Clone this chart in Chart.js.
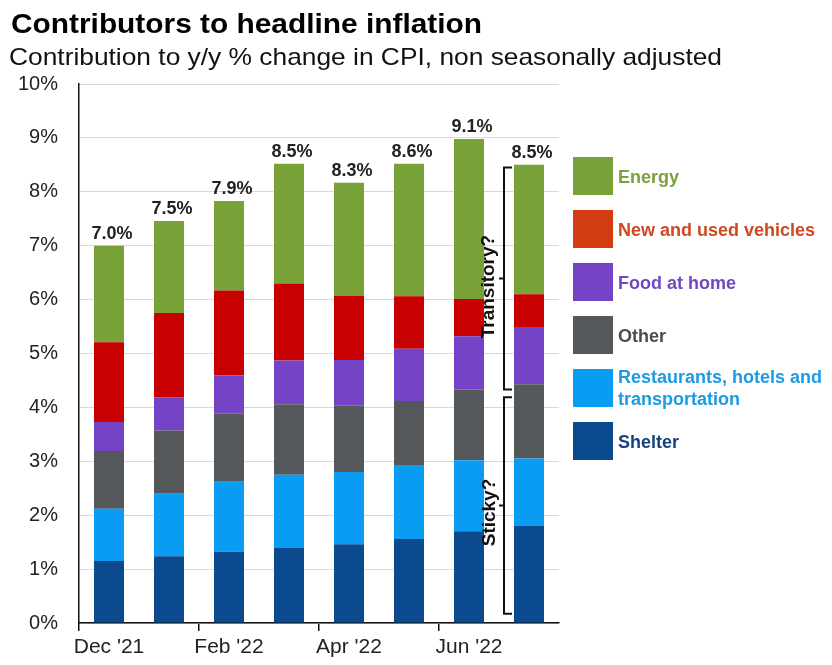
<!DOCTYPE html>
<html>
<head>
<meta charset="utf-8">
<script src="https://cdn.jsdelivr.net/npm/chart.js@4.4.0/dist/chart.umd.min.js"></script>
<style>
html,body{margin:0;padding:0;background:#fff;}
#wrap{position:relative;width:832px;height:665px;}
</style>
</head>
<body>
<div id="wrap"><canvas id="c" width="832" height="665"></canvas></div>
<script>
// ---- data ----
const categories = ["Dec '21","Jan '22","Feb '22","Mar '22","Apr '22","May '22","Jun '22","Jul '22"];
const shelter     = [1.15, 1.24, 1.32, 1.40, 1.46, 1.56, 1.70, 1.81];
const restaurants = [0.97, 1.16, 1.30, 1.35, 1.34, 1.37, 1.32, 1.24];
const other       = [1.07, 1.17, 1.26, 1.31, 1.23, 1.19, 1.31, 1.38];
const food        = [0.54, 0.62, 0.71, 0.81, 0.85, 0.97, 0.99, 1.06];
const vehicles    = [1.48, 1.56, 1.58, 1.43, 1.19, 0.97, 0.69, 0.61];
const energy      = [1.79, 1.71, 1.66, 2.22, 2.10, 2.46, 2.97, 2.40];
const totalLabels = ["7.0%","7.5%","7.9%","8.5%","8.3%","8.6%","9.1%","8.5%"];
const yTicks      = [0,1,2,3,4,5,6,7,8,9,10];
const seriesNames = ["Energy","New and used vehicles","Food at home","Other","Restaurants, hotels and\ntransportation","Shelter"];
const transitoryRange = [8.45, 4.33];
const stickyRange     = [4.19, 0.17];

const FONT = "'Liberation Sans', Arial, sans-serif";

const colors = {
  shelter:'#0B4A8E', restaurants:'#0A9BF2', other:'#55585B',
  food:'#7443C6', vehicles:'#C80000', energy:'#78A137'
};
const legendItems = [
  {name:seriesNames[0], box:'#78A137', text:'#79A23C'},
  {name:seriesNames[1], box:'#D23C10', text:'#CF4822'},
  {name:seriesNames[2], box:'#7443C6', text:'#7447BE'},
  {name:seriesNames[3], box:'#55585B', text:'#4A4C4E'},
  {name:seriesNames[4], box:'#0A9BF2', text:'#1C9BE4'},
  {name:seriesNames[5], box:'#0B4A8E', text:'#17427E'}
];

function fitText(ctx, text, x, y, width){
  const w = ctx.measureText(text).width;
  ctx.save();
  ctx.translate(x, y);
  ctx.scale(width / w, 1);
  ctx.fillText(text, 0, 0);
  ctx.restore();
}

const extras = {
  id:'extras',
  afterDraw(chart){
    const ctx = chart.ctx;
    const y = chart.scales.y;
    ctx.save();
    // titles
    ctx.fillStyle = '#000';
    ctx.textBaseline = 'alphabetic';
    ctx.textAlign = 'left';
    ctx.font = "bold 28px " + FONT;
    fitText(ctx, 'Contributors to headline inflation', 11, 33, 471);
    ctx.fillStyle = '#111';
    ctx.font = "24px " + FONT;
    fitText(ctx, 'Contribution to y/y % change in CPI, non seasonally adjusted', 9, 65, 713);

    // total labels
    ctx.fillStyle = '#222';
    ctx.textAlign = 'center';
    ctx.font = "bold 18px " + FONT;
    const meta = chart.getDatasetMeta(chart.data.datasets.length - 1);
    meta.data.forEach((bar, i) => {
      ctx.fillText(totalLabels[i], bar.x + 3, bar.y - 7);
    });

    // brackets
    const lastBar = meta.data[meta.data.length - 1];
    const bx = lastBar.x - 25;
    ctx.strokeStyle = '#111';
    ctx.lineWidth = 2;
    function bracket(top, bot){
      const yt = y.getPixelForValue(top), yb = y.getPixelForValue(bot);
      const ym = (yt + yb) / 2;
      ctx.beginPath();
      ctx.moveTo(bx + 8, yt); ctx.lineTo(bx, yt); ctx.lineTo(bx, yb); ctx.lineTo(bx + 8, yb);
      ctx.moveTo(bx, ym); ctx.lineTo(bx - 5, ym);
      ctx.stroke();
      return ym;
    }
    const m1 = bracket(transitoryRange[0], transitoryRange[1]);
    const m2 = bracket(stickyRange[0], stickyRange[1]);
    ctx.fillStyle = '#111';
    ctx.font = "bold 19px " + FONT;
    ctx.textAlign = 'center';
    ctx.textBaseline = 'middle';
    ctx.save(); ctx.translate(bx - 15, m1 + 8); ctx.rotate(-Math.PI/2); ctx.fillText('Transitory?', 0, 0); ctx.restore();
    ctx.save(); ctx.translate(bx - 14, m2 + 7); ctx.rotate(-Math.PI/2); ctx.fillText('Sticky?', 0, 0); ctx.restore();

    // legend
    const lx = 573, ly0 = 157, step = 53;
    legendItems.forEach((it, i) => {
      const ly = ly0 + i * step;
      ctx.fillStyle = it.box;
      ctx.fillRect(lx, ly, 40, 38);
      ctx.fillStyle = it.text;
      ctx.font = "bold 18px " + FONT;
      ctx.textAlign = 'left';
      ctx.textBaseline = 'middle';
      const lines = it.name.split('\n');
      if (lines.length === 1) {
        ctx.fillText(lines[0], 618, ly + 21);
      } else {
        ctx.fillText(lines[0], 618, ly + 9, 212);
        ctx.fillText(lines[1], 618, ly + 31);
      }
    });
    ctx.restore();
  }
};

const mk = (label, data, color) => ({label, data, backgroundColor:color, borderWidth:0, barPercentage:0.5, categoryPercentage:1.0});

new Chart(document.getElementById('c'), {
  type:'bar',
  data:{
    labels: categories,
    datasets:[
      mk('Shelter', shelter, colors.shelter),
      mk('Restaurants, hotels and transportation', restaurants, colors.restaurants),
      mk('Other', other, colors.other),
      mk('Food at home', food, colors.food),
      mk('New and used vehicles', vehicles, colors.vehicles),
      mk('Energy', energy, colors.energy)
    ]
  },
  options:{
    responsive:false,
    animation:false,
    layout:{padding:{top:84, right:273, bottom:0, left:0}},
    plugins:{legend:{display:false}, tooltip:{enabled:false}, title:{display:false}},
    scales:{
      x:{
        stacked:true,
        afterFit(s){ s.height = 42; },
        grid:{display:true, drawOnChartArea:false, drawTicks:true, tickLength:8, offset:true,
              color:(c)=> (c.index % 2 === 0 ? '#111' : 'rgba(0,0,0,0)'), lineWidth:1.5},
        border:{display:true, color:'#111', width:1.5},
        ticks:{autoSkip:false, maxRotation:0, padding:4, color:'#222',
               font:{family:FONT, size:21},
               callback:(v,i)=> (i % 2 === 0 ? categories[i] : '')}
      },
      y:{
        stacked:true, min:0, max:10,
        afterFit(s){ s.width = 79; },
        afterBuildTicks(s){ s.ticks = yTicks.map(v=>({value:v})); },
        grid:{color:'#D9D9D9', lineWidth:1, drawTicks:false},
        border:{display:true, color:'#111', width:1.5},
        ticks:{padding:21, color:'#222', font:{family:FONT, size:20},
               callback:(v)=> v + '%'}
      }
    }
  },
  plugins:[extras]
});
</script>
</body>
</html>
